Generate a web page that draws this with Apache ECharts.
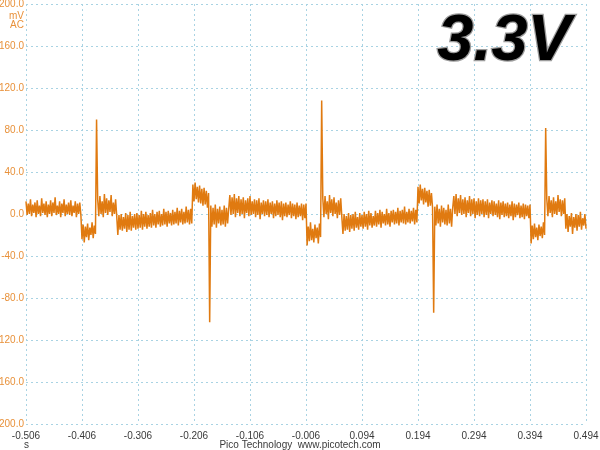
<!DOCTYPE html>
<html>
<head>
<meta charset="utf-8">
<script src="https://cdn.jsdelivr.net/npm/echarts@6/dist/echarts.min.js"></script>
<style>html,body{margin:0;padding:0;background:#fff}#c{width:600px;height:450px}</style>
</head>
<body>
<div id="c"></div>
<script>
// Sample interval (s) and time of first sample
const sampleStep = 0.002;
const traceStart = -0.506;
const xTickLabels = ["-0.506","-0.406","-0.306","-0.206","-0.106","-0.006","0.094","0.194","0.294","0.394","0.494"];
const yTickValues = [-200,-160,-120,-80,-40,0,40,80,120,160,200];
const titleText = "3.3V";

// Trace values in mV, read segment by segment
const segA = [12,-1,10,0,14,-2,9,1,11,-3, 13,0,8,-2,15,1,10,-1,12,-3, 9,0,13,-2,11,1,16,-1,8,0, 12,-3,10,1,14,-2,9,0,11,-1, 13,-2,8,1,12,-3,10,0,11,-1];
const segB = [-24,-10,-27,-12,-22,-9,-25,-13,-20,-8,-23,-11,-19];
const spike1 = [90];
const segC = [14,-2,17,0,12,-3,19,1,15,-1,13,2,18,-2,11,0,14];
const segD = [-2,-20,-1,-15,0,-16,-3,-14,1,-17, -1,-15,2,-16,-2,-13,0,-15,1,-14, -1,-13,3,-15,0,-12,2,-14,-1,-12, 1,-13,4,-11,0,-13,2,-10,3,-12, 0,-11,5,-10,2,-12,3,-9,1,-11, 4,-10,2,-9,6,-11,3,-8,5,-10, 2,-9,7,-8,4,-10,5,-9];
const segE = [28,12,30,14,26,11,27,10,24,8,25,9,22,6,20];
const spike2 = [-103];
const segF = [8,-12,6,-10,9,-13,5,-9,7,-11,4,-10,8,-12,6,-9,5];
const segG = [18,-1,16,0,19,-3,15,1,17,-2, 14,0,16,-4,13,1,15,-2,17,-1, 12,0,14,-3,13,-1,15,-5,11,0, 13,-2,12,-1,14,-3,11,0,12,-4, 10,-2,13,-1,11,-3,12,-6,10,-2, 11,-3,9,-1,12,-4,10,-2,9,-5, 11,-3,8,-2,10,-6,9,-4,10];
const segH = [-30,-12,-26,-8,-25,-14,-27,-10,-23,-13,-28,-9,-22];
const spike3 = [108];
const segI = [15,-3,17,0,12,-5,18,1,14,-2,16,0,11,-4,13,-1,15];
const segJ = [-3,-19,0,-16,-2,-15,1,-17,-1,-14, 0,-16,2,-13,-3,-15,1,-12,-1,-14, 2,-12,0,-15,3,-11,1,-13,-2,-11, 3,-12,1,-10,4,-13,2,-9,0,-11, 5,-10,1,-12,3,-8,4,-10,2,-9, 6,-11,3,-8,4,-9,7,-10,2,-8, 5,-9,3,-7,6,-10,4,-8];
const segK = [26,10,28,13,24,9,25,11,22,7,23,8,20,6];
const spike4 = [-94];
const segL = [7,-11,9,-9,5,-12,8,-8,6,-10,4,-11,9,-9,5,-12,6];
const segM = [17,0,19,-2,15,1,18,-1,14,0, 16,-3,13,1,17,-2,14,0,15,-4, 12,-1,15,-2,13,0,14,-3,12,-1, 14,-4,11,0,13,-2,12,-1,10,-3, 13,-5,11,-1,12,-3,10,-2,11,-4, 9,-2,12,-6,10,-3,9,-1,11,-4, 8,-3,10,-5,9,-2,8,-4,9];
const segN = [-28,-11,-24,-9,-22,-13,-25,-10,-21,-12,-23,-8,-20];
const spike5 = [82];
const segO = [14,-2,17,1,13,-3,16,0,12,-1,18,2,14,-2,13,0,15];
const segP = [-14,0,-17,-2,-12,1,-19,-3,-13,0,-16,-1,-12,2,-15,-4,-11,0,-14];

const traceMv = [].concat(segA,segB,spike1,segC,segD,segE,spike2,segF,segG,segH,spike3,segI,segJ,segK,spike4,segL,segM,segN,spike5,segO,segP);
// x = time elapsed since first sample
const seriesData = traceMv.map((v, i) => [i * sampleStep, v]);

const chart = echarts.init(document.getElementById('c'), null, {renderer: 'canvas'});
const gridColor = '#a9d3e3';
const labelFont = 'Liberation Sans, Arial, sans-serif';
chart.setOption({
  animation: false,
  backgroundColor: '#ffffff',
  grid: {left: 26, right: 14, top: 4, bottom: 26, containLabel: false, outerBoundsMode: 'none'},
  xAxis: {
    type: 'value', min: 0, max: 1.0, interval: 0.1,
    axisLine: {show: false}, axisTick: {show: false},
    splitLine: {show: true, showMinLine: true, showMaxLine: true, lineStyle: {color: gridColor, type: [2, 3], width: 1}},
    axisLabel: {
      color: '#3a3a3a', fontSize: 10, fontFamily: labelFont, margin: 7,
      formatter: v => xTickLabels[Math.round(v / 0.1)]
    }
  },
  yAxis: {
    type: 'value', min: yTickValues[0], max: yTickValues[yTickValues.length - 1], interval: 40,
    axisLine: {show: false}, axisTick: {show: false},
    splitLine: {show: true, showMinLine: true, showMaxLine: true, lineStyle: {color: gridColor, type: [2, 3], width: 1}},
    axisLabel: {
      color: '#e8913a', fontSize: 10, fontFamily: labelFont, margin: 2,
      formatter: v => v.toFixed(1)
    }
  },
  graphic: [
    {type: 'text', right: 576, top: 11, style: {text: 'mV', fill: '#e8913a', font: '10px ' + labelFont, textAlign: 'right'}},
    {type: 'text', right: 576, top: 20, style: {text: 'AC', fill: '#e8913a', font: '10px ' + labelFont, textAlign: 'right'}},
    {type: 'text', left: 24, top: 440, style: {text: 's', fill: '#3a3a3a', font: '10px ' + labelFont}},
    {type: 'text', left: 'center', top: 440, style: {text: 'Pico Technology  www.picotech.com', fill: '#3a3a3a', font: '10px ' + labelFont}},
    {type: 'text', left: 436, top: 8, z: 10, style: {
      text: titleText, font: 'italic bold 65px Liberation Sans, Arial, sans-serif',
      fill: new echarts.graphic.LinearGradient(0, 0, 1, 0, [
        {offset: 0, color: '#3a3a3a'}, {offset: 0.5, color: '#1c1c1c'}, {offset: 1, color: '#444444'}
      ]),
      stroke: '#9c9c9c', lineWidth: 2.5,
      shadowColor: 'rgba(0,0,0,0.35)', shadowBlur: 3, shadowOffsetX: 1, shadowOffsetY: 1
    }}
  ],
  series: [{
    type: 'line', data: seriesData, showSymbol: false, symbol: 'none',
    lineStyle: {color: '#e07a10', width: 1.5}, sampling: null, silent: true
  }]
});
</script>
</body>
</html>
